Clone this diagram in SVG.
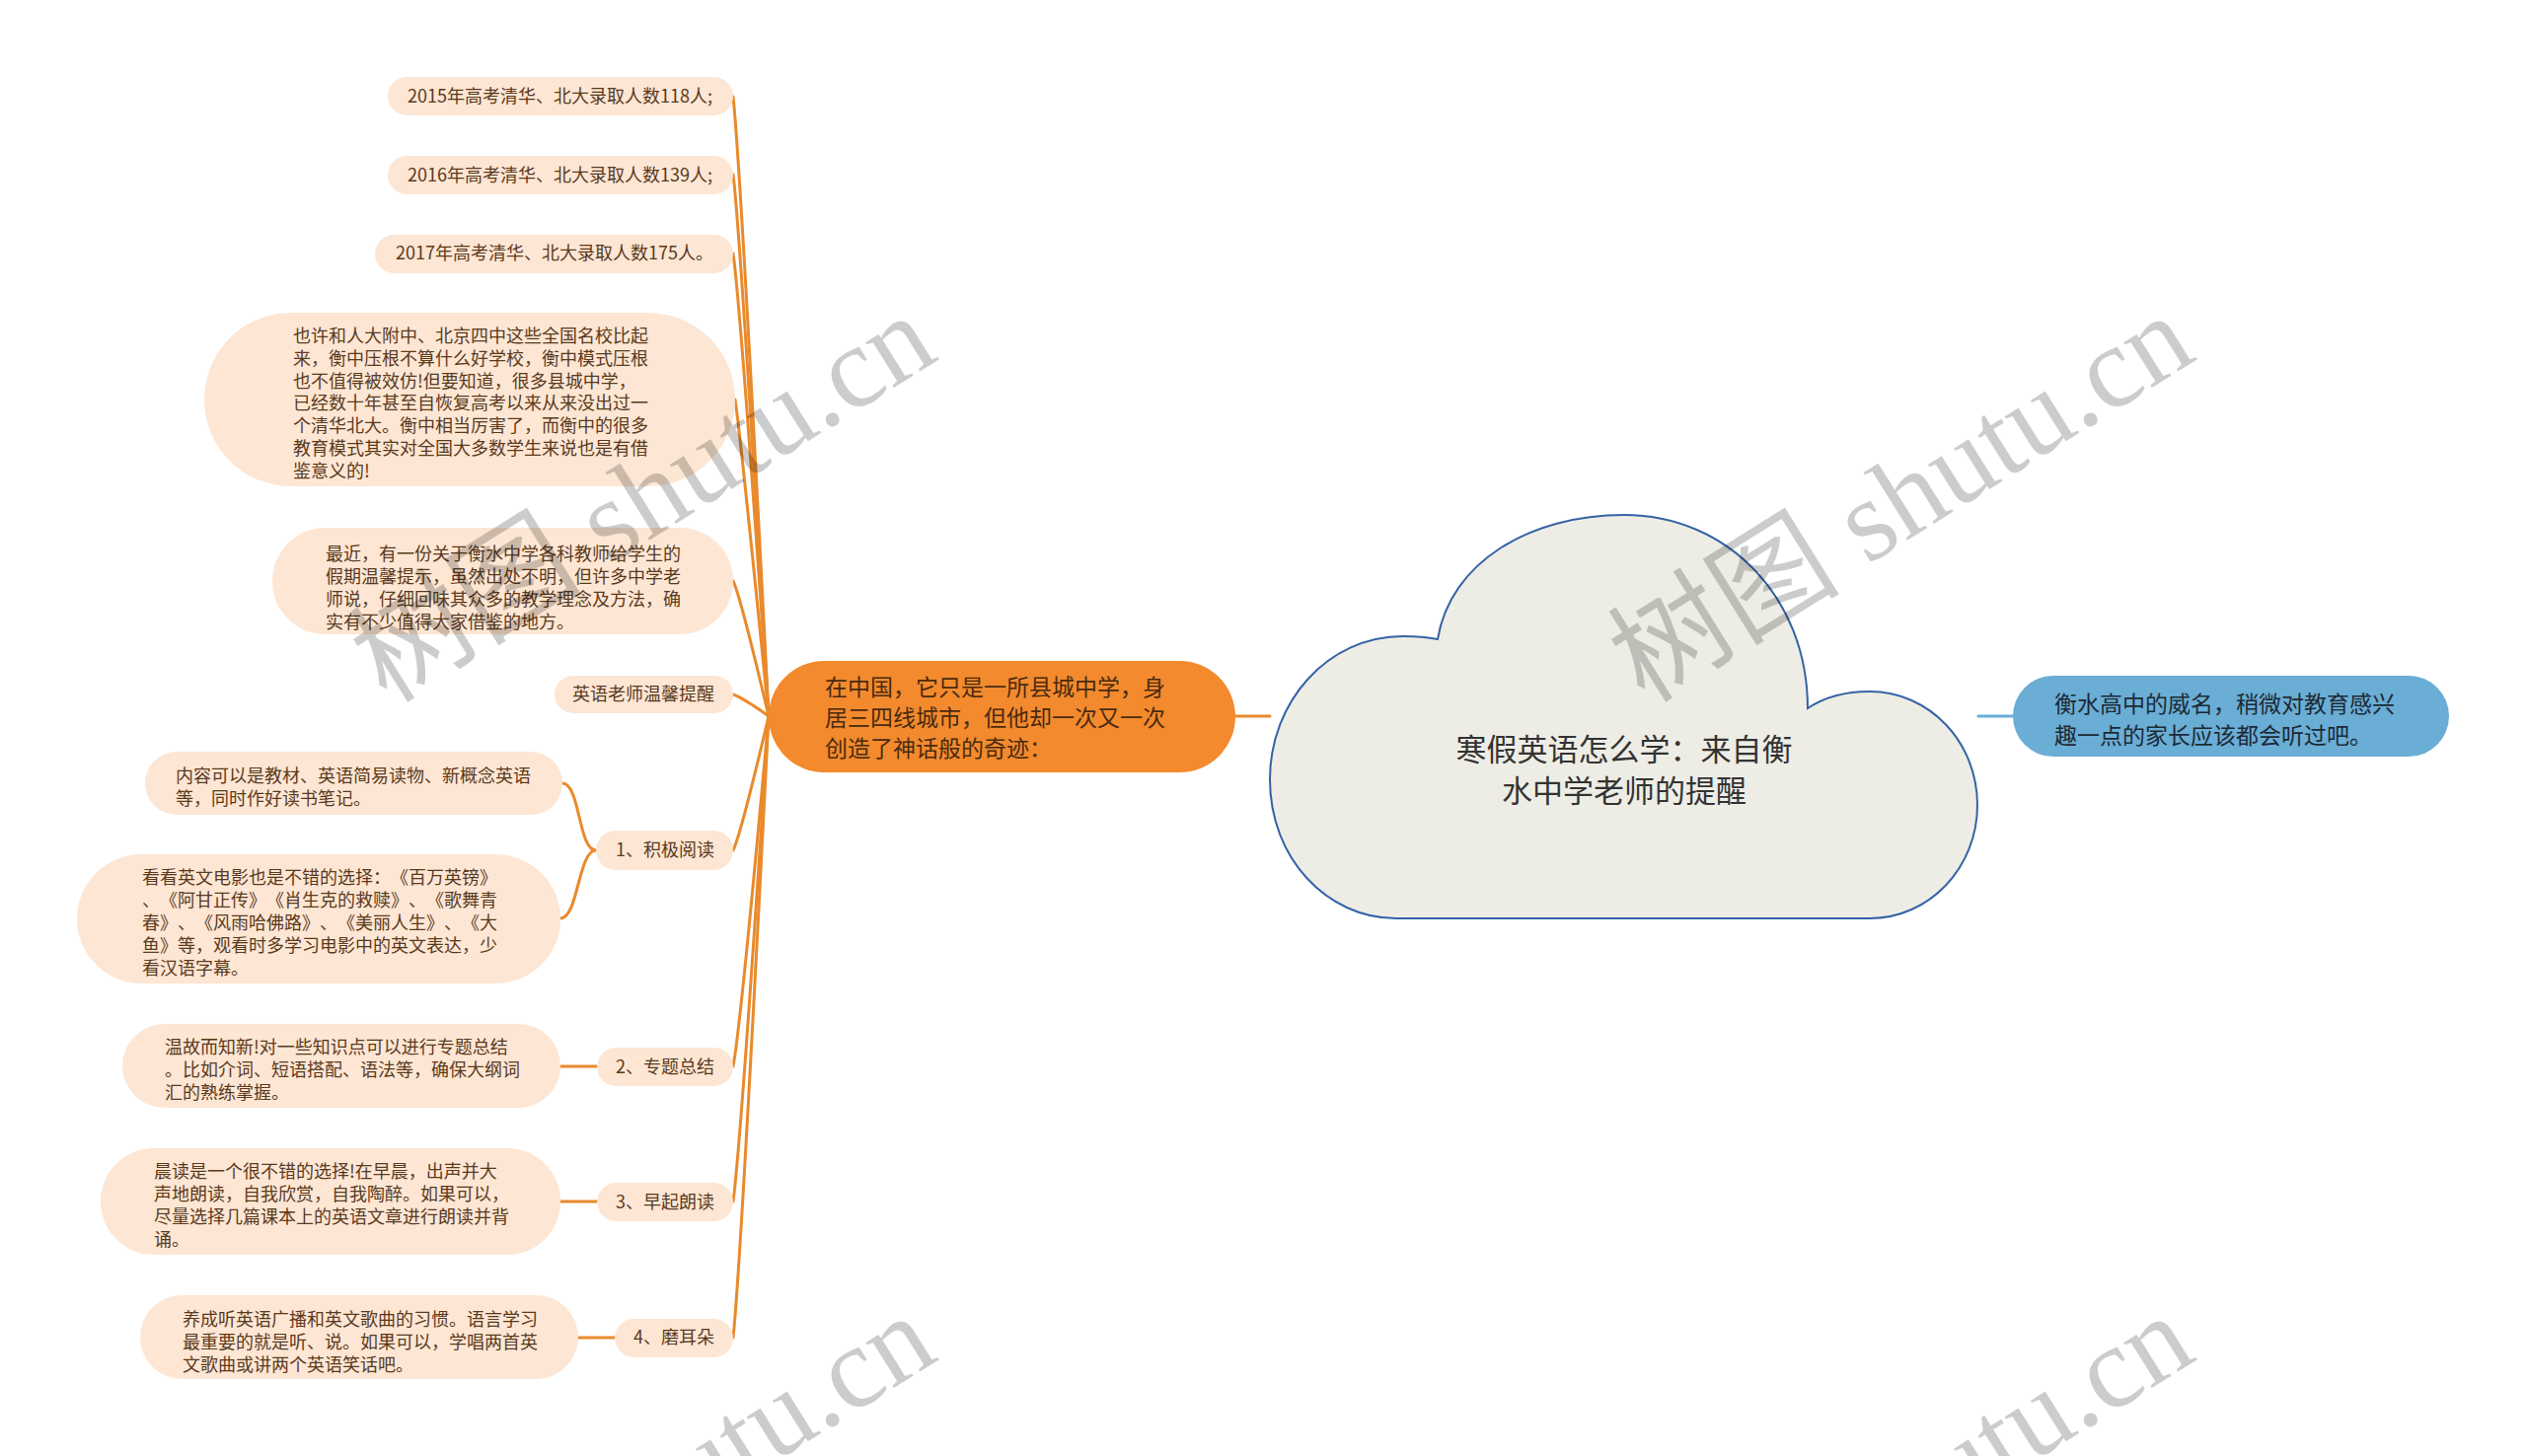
<svg xmlns="http://www.w3.org/2000/svg" width="2560" height="1476" viewBox="0 0 2560 1476">
<style>
text{text-spacing-trim:space-all}
.leaf rect{fill:#fde6d4}
.leaf text,.sub text{font-family:"Noto Sans CJK SC","Noto Sans",sans-serif;font-size:18px;fill:#5a3a1c}
.sub rect{fill:#fde6d4}
.sub text{text-anchor:middle}
.conn path{fill:none;stroke:#e98a2c;stroke-width:3;stroke-linecap:round}
.big text{font-family:"Noto Sans CJK SC","Noto Sans",sans-serif;font-size:23px}
.wm{font-family:"Liberation Serif","Noto Sans CJK SC",serif;font-size:118px;fill:#000;fill-opacity:0.2}
</style>
<rect width="2560" height="1476" fill="#ffffff"/>
<g id="connectors" class="conn">
<path d="M779 726 C771 569 750 161 743 98"/>
<path d="M779 726 C771 589 750 232 743 177"/>
<path d="M779 726 C771 609 750 304 743 257"/>
<path d="M779 726 C771 646 750 437 745 405"/>
<path d="M779 726 C771 692 750 603 743 589"/>
<path d="M779 726 C771 720 750 706 743 704"/>
<path d="M779 726 C771 760 750 848 743 862"/>
<path d="M779 726 C771 815 750 1045 743 1081"/>
<path d="M779 726 C771 849 750 1169 743 1218"/>
<path d="M779 726 C771 884 750 1293 743 1356"/>
<path d="M604 862 C586 862 588 794 570 794"/>
<path d="M604 862 C586 862 586 931 568 931"/>
<path d="M605 1081 L568 1081"/>
<path d="M605 1218 L568 1218"/>
<path d="M623 1356 L586 1356"/>
<path d="M1252 726 L1287 726"/>
<path d="M2005 726 L2040 726" style="stroke:#6aadd6"/>
</g>
<g id="root">
<path d="M1415 931 C1345 931 1287 870 1287 790 C1287 712 1345 645 1422 645 C1435 645 1447 646 1457 648 C1470 570 1550 522 1646 522 C1750 522 1832 605 1832 718 C1850 706 1872 701 1895 701 C1955 701 2004 752 2004 816 C2004 880 1955 931 1895 931 Z" fill="#eeede5" stroke="#3563a6" stroke-width="2"/>
<text font-family="Noto Sans CJK SC,sans-serif" font-size="31" fill="#333" text-anchor="middle"><tspan x="1646" y="771">寒假英语怎么学：来自衡</tspan><tspan x="1646" y="813">水中学老师的提醒</tspan></text>
</g>
<g id="main" class="big">
<rect x="779" y="670" width="473" height="113" rx="56.5" fill="#f38a2d"/>
<text fill="#4a2a10"><tspan x="836" y="705">在中国，它只是一所县城中学，身</tspan><tspan x="836" y="736">居三四线城市，但他却一次又一次</tspan><tspan x="836" y="767">创造了神话般的奇迹：</tspan></text>
</g>
<g id="blue" class="big">
<rect x="2040" y="685" width="442" height="82" rx="41" fill="#6aadd5"/>
<text fill="#1c2a36"><tspan x="2082" y="722">衡水高中的威名，稍微对教育感兴</tspan><tspan x="2082" y="754">趣一点的家长应该都会听过吧。</tspan></text>
</g>
<g id="n2015" class="leaf"><rect x="393" y="78" width="350" height="39" rx="19.5"/><text x="413" y="104">2015年高考清华、北大录取人数118人;</text></g>
<g id="n2016" class="leaf"><rect x="393" y="158" width="350" height="39" rx="19.5"/><text x="413" y="184">2016年高考清华、北大录取人数139人;</text></g>
<g id="n2017" class="leaf"><rect x="380" y="238" width="363" height="39" rx="19.5"/><text x="401" y="263">2017年高考清华、北大录取人数175人。</text></g>
<g id="nA" class="leaf"><rect x="207" y="317" width="538" height="176" rx="88"/><text><tspan x="297" y="347">也许和人大附中、北京四中这些全国名校比起</tspan><tspan x="297" y="370">来，衡中压根不算什么好学校，衡中模式压根</tspan><tspan x="297" y="393">也不值得被效仿!但要知道，很多县城中学，</tspan><tspan x="297" y="415">已经数十年甚至自恢复高考以来从来没出过一</tspan><tspan x="297" y="438">个清华北大。衡中相当厉害了，而衡中的很多</tspan><tspan x="297" y="461">教育模式其实对全国大多数学生来说也是有借</tspan><tspan x="297" y="484">鉴意义的!</tspan></text></g>
<g id="nB" class="leaf"><rect x="276" y="535" width="467" height="108" rx="54"/><text><tspan x="330" y="568">最近，有一份关于衡水中学各科教师给学生的</tspan><tspan x="330" y="591">假期温馨提示，虽然出处不明，但许多中学老</tspan><tspan x="330" y="614">师说，仔细回味其众多的教学理念及方法，确</tspan><tspan x="330" y="637">实有不少值得大家借鉴的地方。</tspan></text></g>
<g id="nTip" class="leaf"><rect x="562" y="685" width="181" height="38" rx="19"/><text x="580" y="710">英语老师温馨提醒</text></g>
<g id="s1" class="sub"><rect x="604" y="842" width="139" height="40" rx="20"/><text x="674" y="868">1、积极阅读</text></g>
<g id="s1a" class="leaf"><rect x="147" y="762" width="423" height="64" rx="32"/><text><tspan x="178" y="793">内容可以是教材、英语简易读物、新概念英语</tspan><tspan x="178" y="816">等，同时作好读书笔记。</tspan></text></g>
<g id="s1b" class="leaf"><rect x="78" y="866" width="490" height="131" rx="65.5"/><text><tspan x="144" y="896">看看英文电影也是不错的选择：《百万英镑》</tspan><tspan x="144" y="919">、《阿甘正传》《肖生克的救赎》、《歌舞青</tspan><tspan x="144" y="942">春》、《风雨哈佛路》、《美丽人生》、《大</tspan><tspan x="144" y="965">鱼》等，观看时多学习电影中的英文表达，少</tspan><tspan x="144" y="988">看汉语字幕。</tspan></text></g>
<g id="s2" class="sub"><rect x="605" y="1062" width="138" height="39" rx="19.5"/><text x="674" y="1088">2、专题总结</text></g>
<g id="s2a" class="leaf"><rect x="124" y="1038" width="444" height="85" rx="42.5"/><text><tspan x="167" y="1068">温故而知新!对一些知识点可以进行专题总结</tspan><tspan x="167" y="1091">。比如介词、短语搭配、语法等，确保大纲词</tspan><tspan x="167" y="1114">汇的熟练掌握。</tspan></text></g>
<g id="s3" class="sub"><rect x="605" y="1199" width="138" height="39" rx="19.5"/><text x="674" y="1225">3、早起朗读</text></g>
<g id="s3a" class="leaf"><rect x="102" y="1164" width="466" height="108" rx="54"/><text><tspan x="156" y="1194">晨读是一个很不错的选择!在早晨，出声并大</tspan><tspan x="156" y="1217">声地朗读，自我欣赏，自我陶醉。如果可以，</tspan><tspan x="156" y="1240">尽量选择几篇课本上的英语文章进行朗读并背</tspan><tspan x="156" y="1263">诵。</tspan></text></g>
<g id="s4" class="sub"><rect x="623" y="1337" width="120" height="39" rx="19.5"/><text x="683" y="1362">4、磨耳朵</text></g>
<g id="s4a" class="leaf"><rect x="142" y="1313" width="444" height="85" rx="42.5"/><text><tspan x="185" y="1344">养成听英语广播和英文歌曲的习惯。语言学习</tspan><tspan x="185" y="1367">最重要的就是听、说。如果可以，学唱两首英</tspan><tspan x="185" y="1390">文歌曲或讲两个英语笑话吧。</tspan></text></g>
<g id="watermarks">
<text class="wm" transform="translate(392,714) rotate(-32)">树图 shutu.cn</text>
<text class="wm" transform="translate(1667,714) rotate(-32)">树图 shutu.cn</text>
<text class="wm" transform="translate(392,1728) rotate(-32)">树图 shutu.cn</text>
<text class="wm" transform="translate(1667,1728) rotate(-32)">树图 shutu.cn</text>
</g>
</svg>
